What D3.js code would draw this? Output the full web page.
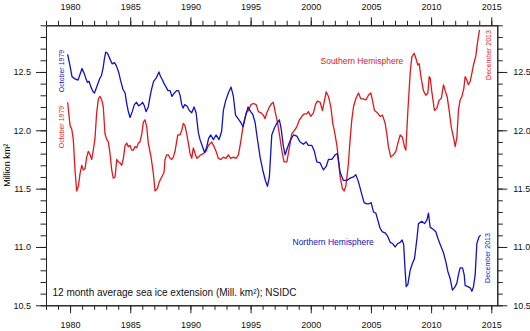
<!DOCTYPE html>
<html>
<head>
<meta charset="utf-8">
<script src="https://cdn.jsdelivr.net/npm/d3@7"></script>
<style>
  body { margin: 0; background: #fff; }
  svg { display: block; font-family: "Liberation Sans", Arial, sans-serif; }
</style>
</head>
<body>
<div id="chart"></div>
<script>
// 12 month running mean, million km2
const northern = [
  [1979.80, 12.65], [1980.00, 12.55], [1980.16, 12.46], [1980.41, 12.44], [1980.66, 12.43],
  [1980.83, 12.48], [1980.99, 12.53], [1981.16, 12.49], [1981.33, 12.44], [1981.45, 12.41],
  [1981.57, 12.42], [1981.74, 12.37], [1981.91, 12.33], [1982.03, 12.32], [1982.24, 12.38],
  [1982.45, 12.44], [1982.61, 12.47], [1982.74, 12.53], [1982.85, 12.61], [1982.96, 12.67],
  [1983.11, 12.66], [1983.32, 12.61], [1983.49, 12.57], [1983.69, 12.58], [1983.86, 12.55],
  [1984.03, 12.50], [1984.19, 12.43], [1984.40, 12.35], [1984.57, 12.32], [1984.69, 12.24],
  [1984.82, 12.17], [1984.98, 12.11], [1985.17, 12.16], [1985.34, 12.22], [1985.52, 12.24],
  [1985.69, 12.21], [1985.86, 12.22], [1986.02, 12.24], [1986.17, 12.21], [1986.31, 12.16],
  [1986.50, 12.20], [1986.65, 12.29], [1986.77, 12.35], [1986.94, 12.42], [1987.17, 12.45],
  [1987.38, 12.50], [1987.52, 12.46], [1987.64, 12.44], [1987.81, 12.40], [1987.98, 12.37],
  [1988.14, 12.34], [1988.31, 12.34], [1988.47, 12.29], [1988.67, 12.32], [1988.86, 12.34],
  [1989.01, 12.34], [1989.14, 12.30], [1989.28, 12.22], [1989.39, 12.19], [1989.51, 12.22],
  [1989.70, 12.21], [1989.91, 12.17], [1990.11, 12.15], [1990.30, 12.20], [1990.47, 12.15],
  [1990.66, 11.98], [1990.80, 11.92], [1990.97, 11.87], [1991.18, 11.81], [1991.34, 11.85],
  [1991.51, 11.93], [1991.69, 11.96], [1991.91, 11.92], [1992.13, 11.96], [1992.38, 11.92],
  [1992.59, 11.99], [1992.74, 12.17], [1992.92, 12.25], [1993.15, 12.32], [1993.38, 12.37],
  [1993.57, 12.29], [1993.75, 12.13], [1993.96, 12.10], [1994.17, 12.07], [1994.38, 12.03],
  [1994.58, 12.12], [1994.79, 12.20], [1995.00, 12.16], [1995.17, 12.14], [1995.37, 12.07],
  [1995.56, 11.93], [1995.79, 11.77], [1996.01, 11.66], [1996.23, 11.57], [1996.40, 11.52],
  [1996.56, 11.60], [1996.76, 11.96], [1996.98, 12.02], [1997.18, 12.06], [1997.39, 12.09],
  [1997.53, 12.02], [1997.73, 11.86], [1997.87, 11.79], [1998.06, 11.85], [1998.28, 11.91],
  [1998.56, 11.96], [1998.84, 11.95], [1999.11, 11.90], [1999.39, 11.88], [1999.61, 11.90],
  [1999.80, 11.87], [2000.09, 11.87], [2000.30, 11.82], [2000.50, 11.73], [2000.78, 11.72],
  [2001.05, 11.66], [2001.28, 11.69], [2001.47, 11.75], [2001.75, 11.75], [2002.02, 11.79],
  [2002.21, 11.80], [2002.44, 11.64], [2002.71, 11.57], [2003.00, 11.57], [2003.27, 11.59],
  [2003.55, 11.60], [2003.74, 11.62], [2003.96, 11.56], [2004.19, 11.47], [2004.43, 11.38],
  [2004.66, 11.37], [2004.85, 11.37], [2005.02, 11.38], [2005.21, 11.30], [2005.41, 11.29],
  [2005.57, 11.23], [2005.76, 11.16], [2005.96, 11.13], [2006.18, 11.12], [2006.40, 11.09],
  [2006.60, 11.04], [2006.79, 11.03], [2007.01, 11.00], [2007.24, 11.03], [2007.43, 11.04],
  [2007.59, 11.06], [2007.72, 11.02], [2007.84, 10.80], [2007.93, 10.66], [2008.07, 10.68],
  [2008.26, 10.80], [2008.45, 10.86], [2008.62, 10.90], [2008.82, 11.07], [2008.95, 11.20],
  [2009.23, 11.22], [2009.45, 11.20], [2009.65, 11.23], [2009.78, 11.29], [2009.92, 11.17],
  [2010.19, 11.15], [2010.39, 11.13], [2010.61, 11.06], [2010.84, 11.00], [2011.03, 10.95],
  [2011.23, 10.87], [2011.39, 10.79], [2011.58, 10.73], [2011.77, 10.63], [2012.00, 10.66],
  [2012.14, 10.69], [2012.27, 10.76], [2012.41, 10.82], [2012.61, 10.82], [2012.75, 10.76],
  [2012.83, 10.67], [2013.05, 10.66], [2013.25, 10.65], [2013.39, 10.62], [2013.52, 10.66],
  [2013.66, 10.76], [2013.80, 11.03], [2013.99, 11.09], [2014.12, 11.10]
];

const southern = [
  [1979.80, 12.24], [1979.91, 12.13], [1980.00, 12.04], [1980.14, 12.01], [1980.27, 11.92],
  [1980.41, 11.66], [1980.55, 11.48], [1980.69, 11.52], [1980.83, 11.63], [1980.97, 11.70],
  [1981.10, 11.66], [1981.24, 11.67], [1981.38, 11.77], [1981.52, 11.82], [1981.66, 11.79],
  [1981.80, 11.75], [1981.93, 11.83], [1982.07, 11.93], [1982.21, 12.15], [1982.35, 12.27],
  [1982.49, 12.29], [1982.63, 12.26], [1982.76, 12.20], [1982.90, 11.97], [1983.05, 11.92],
  [1983.18, 11.90], [1983.32, 11.80], [1983.46, 11.66], [1983.59, 11.59], [1983.74, 11.60],
  [1983.88, 11.75], [1984.01, 11.73], [1984.15, 11.72], [1984.29, 11.70], [1984.43, 11.76],
  [1984.57, 11.87], [1984.71, 11.89], [1984.84, 11.86], [1984.98, 11.87], [1985.12, 11.83],
  [1985.26, 11.83], [1985.40, 11.86], [1985.54, 11.85], [1985.67, 11.89], [1985.81, 11.90],
  [1985.96, 11.97], [1986.09, 12.07], [1986.23, 12.09], [1986.37, 12.03], [1986.50, 11.89],
  [1986.73, 11.77], [1986.92, 11.63], [1987.06, 11.48], [1987.25, 11.50], [1987.42, 11.56],
  [1987.62, 11.60], [1987.81, 11.64], [1987.89, 11.75], [1988.03, 11.79], [1988.17, 11.79],
  [1988.31, 11.76], [1988.45, 11.75], [1988.58, 11.77], [1988.72, 11.82], [1988.95, 11.96],
  [1989.14, 11.96], [1989.28, 12.00], [1989.41, 12.06], [1989.55, 12.04], [1989.75, 11.94],
  [1989.97, 11.80], [1990.11, 11.76], [1990.24, 11.85], [1990.39, 11.80], [1990.53, 11.76],
  [1990.66, 11.77], [1990.86, 11.79], [1991.08, 11.80], [1991.30, 11.82], [1991.49, 11.87],
  [1991.77, 11.90], [1991.97, 11.86], [1992.13, 11.82], [1992.32, 11.76], [1992.52, 11.75],
  [1992.74, 11.77], [1992.96, 11.76], [1993.15, 11.79], [1993.35, 11.76], [1993.57, 11.77],
  [1993.79, 11.76], [1993.99, 11.79], [1994.18, 11.90], [1994.40, 12.05], [1994.63, 12.15],
  [1994.82, 12.17], [1995.02, 12.22], [1995.23, 12.23], [1995.46, 12.22], [1995.65, 12.16],
  [1995.85, 12.15], [1996.06, 12.13], [1996.20, 12.10], [1996.35, 12.15], [1996.56, 12.20],
  [1996.76, 12.23], [1996.89, 12.24], [1997.04, 12.16], [1997.23, 12.07], [1997.39, 11.97],
  [1997.59, 11.83], [1997.78, 11.73], [1998.01, 11.73], [1998.22, 11.85], [1998.42, 11.97],
  [1998.64, 12.00], [1998.84, 12.03], [1999.06, 12.09], [1999.26, 12.12], [1999.45, 12.14],
  [1999.67, 12.14], [1999.80, 12.16], [2000.00, 12.12], [2000.22, 12.15], [2000.39, 12.22],
  [2000.55, 12.25], [2000.78, 12.24], [2000.97, 12.17], [2001.13, 12.25], [2001.28, 12.33],
  [2001.47, 12.29], [2001.67, 12.20], [2001.83, 12.06], [2001.97, 11.99], [2002.17, 11.87],
  [2002.30, 11.75], [2002.44, 11.60], [2002.63, 11.50], [2002.77, 11.48], [2002.91, 11.52],
  [2003.05, 11.64], [2003.13, 11.72], [2003.27, 11.92], [2003.41, 12.09], [2003.55, 12.20],
  [2003.74, 12.27], [2003.96, 12.32], [2004.16, 12.27], [2004.38, 12.27], [2004.58, 12.26],
  [2004.79, 12.30], [2004.99, 12.32], [2005.12, 12.26], [2005.29, 12.17], [2005.54, 12.15],
  [2005.76, 12.12], [2005.96, 12.13], [2006.18, 12.06], [2006.32, 11.97], [2006.45, 11.86],
  [2006.65, 11.77], [2006.87, 11.79], [2007.07, 11.82], [2007.24, 11.89], [2007.43, 11.96],
  [2007.62, 11.94], [2007.78, 11.86], [2007.90, 11.83], [2008.07, 12.17], [2008.26, 12.49],
  [2008.40, 12.63], [2008.59, 12.66], [2008.73, 12.62], [2008.90, 12.56], [2009.01, 12.57],
  [2009.17, 12.45], [2009.36, 12.34], [2009.56, 12.30], [2009.73, 12.32], [2009.84, 12.46],
  [2009.92, 12.45], [2010.06, 12.33], [2010.28, 12.17], [2010.48, 12.19], [2010.67, 12.26],
  [2010.84, 12.27], [2011.03, 12.39], [2011.17, 12.34], [2011.33, 12.29], [2011.50, 12.17],
  [2011.67, 12.03], [2011.86, 11.94], [2012.00, 11.86], [2012.14, 11.94], [2012.27, 12.17],
  [2012.41, 12.26], [2012.56, 12.29], [2012.72, 12.36], [2012.83, 12.46], [2012.97, 12.43],
  [2013.10, 12.39], [2013.25, 12.42], [2013.39, 12.49], [2013.52, 12.56], [2013.72, 12.64],
  [2013.85, 12.75], [2014.02, 12.86]
];

const majorYears = [1980, 1985, 1990, 1995, 2000, 2005, 2010, 2015];
const minorYears = d3.range(1978, 2016);
const majorValues = [10.5, 11.0, 11.5, 12.0, 12.5];
const minorValues = d3.range(105, 130).map(d => d / 10);

const blue = "#1212c2";
const red = "#e0181c";

const width = 530, height = 331;
const marginTop = 25.3, marginRight = 32.7, marginBottom = 25.7, marginLeft = 46;

const x = d3.scaleLinear([1978, 2015.5], [marginLeft, width - marginRight]);
const y = d3.scaleLinear([10.5, 12.9], [height - marginBottom, marginTop]);

const svg = d3.select("#chart").append("svg")
  .attr("width", width)
  .attr("height", height);

const line = d3.line()
  .x(d => x(d[0]))
  .y(d => y(d[1]));

svg.append("path")
  .datum(southern)
  .attr("fill", "none")
  .attr("stroke", red)
  .attr("stroke-width", 1.3)
  .attr("stroke-linejoin", "round")
  .attr("d", line);

svg.append("path")
  .datum(northern)
  .attr("fill", "none")
  .attr("stroke", blue)
  .attr("stroke-width", 1.3)
  .attr("stroke-linejoin", "round")
  .attr("d", line);

// axes: minor ticks first, then labelled major ticks
function styleAxis(g) {
  g.selectAll("path, line").attr("stroke", "#222");
  g.selectAll("text").attr("fill", "#111").style("font-size", "9px")
    .style("font-family", '"Liberation Sans", Arial, sans-serif');
}

const fmt = d3.format(".1f");
const bottomY = height - marginBottom, rightX = width - marginRight;

svg.append("g").attr("transform", `translate(0,${marginTop})`)
  .call(d3.axisTop(x).tickValues(minorYears).tickSize(4.5).tickSizeOuter(0).tickFormat(""))
  .call(styleAxis);
svg.append("g").attr("transform", `translate(0,${marginTop})`)
  .call(d3.axisTop(x).tickValues(majorYears).tickSize(8).tickSizeOuter(0).tickPadding(7).tickFormat(d3.format("d")))
  .call(styleAxis);

svg.append("g").attr("transform", `translate(0,${bottomY})`)
  .call(d3.axisBottom(x).tickValues(minorYears).tickSize(4.5).tickSizeOuter(0).tickFormat(""))
  .call(styleAxis);
svg.append("g").attr("transform", `translate(0,${bottomY})`)
  .call(d3.axisBottom(x).tickValues(majorYears).tickSize(8).tickSizeOuter(0).tickPadding(8).tickFormat(d3.format("d")))
  .call(styleAxis);

svg.append("g").attr("transform", `translate(${marginLeft},0)`)
  .call(d3.axisLeft(y).tickValues(minorValues).tickSize(5.5).tickSizeOuter(0).tickFormat(""))
  .call(styleAxis);
svg.append("g").attr("transform", `translate(${marginLeft},0)`)
  .call(d3.axisLeft(y).tickValues(majorValues).tickSize(10).tickSizeOuter(0).tickPadding(5).tickFormat(fmt))
  .call(styleAxis);

svg.append("g").attr("transform", `translate(${rightX},0)`)
  .call(d3.axisRight(y).tickValues(minorValues).tickSize(5.5).tickSizeOuter(0).tickFormat(""))
  .call(styleAxis);
svg.append("g").attr("transform", `translate(${rightX},0)`)
  .call(d3.axisRight(y).tickValues(majorValues).tickSize(10).tickSizeOuter(0).tickPadding(6).tickFormat(fmt))
  .call(styleAxis);

// y label
svg.append("text")
  .attr("transform", `translate(10,${(marginTop + bottomY) / 2}) rotate(-90)`)
  .attr("text-anchor", "middle")
  .style("font-size", "9px")
  .text("Million km²");

// annotations
function vlabel(text, cx, cy, color) {
  svg.append("text")
    .attr("transform", `translate(${cx + 2.5},${cy}) rotate(-90)`)
    .attr("text-anchor", "middle")
    .attr("fill", color)
    .style("font-size", "7px")
    .text(text);
}
vlabel("October 1979", 61, 71, blue);
vlabel("October 1979", 61, 127, red);
vlabel("December 2013", 488, 55, red);
vlabel("December 2013", 487, 258, blue);

svg.append("text")
  .attr("x", 320.5).attr("y", 64)
  .attr("fill", red)
  .style("font-size", "8.5px")
  .text("Southern Hemisphere");

svg.append("text")
  .attr("x", 292.5).attr("y", 245)
  .attr("fill", blue)
  .style("font-size", "8.5px")
  .text("Northern Hemisphere");

svg.append("text")
  .attr("x", 52.5).attr("y", 295.5)
  .attr("fill", "#111")
  .style("font-size", "10px")
  .text("12 month average sea ice extension (Mill. km²); NSIDC");
</script>
</body>
</html>
